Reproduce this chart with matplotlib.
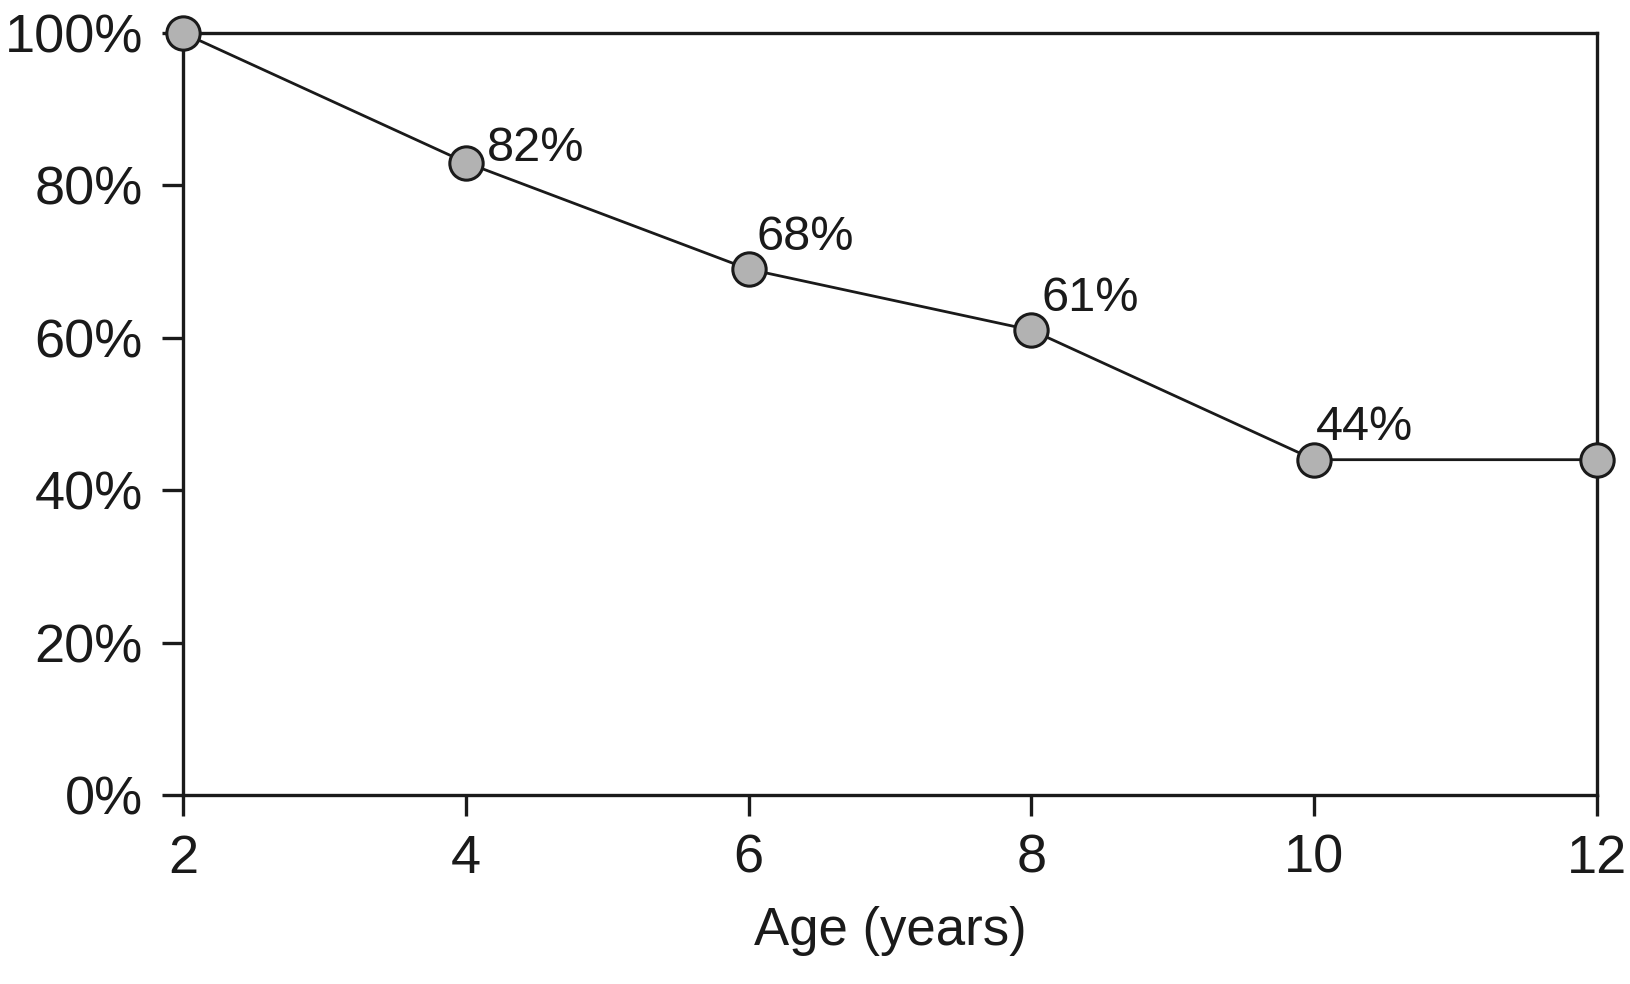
import matplotlib
matplotlib.use("Agg")
import matplotlib.pyplot as plt
from matplotlib.ticker import FuncFormatter

ages = [2, 4, 6, 8, 10, 12]
survival = [100, 83, 69, 61, 44, 44]
label_ages = [4, 6, 8, 10]
label_values = [83, 69, 61, 44]
label_texts = ["82%", "68%", "61%", "44%"]
label_offsets = [(15, 1), (6, 14), (7, 14), (1, 14)]
y_ticks = [0, 20, 40, 60, 80, 100]

plt.rcParams['font.family'] = ['Liberation Sans', 'DejaVu Sans']

fig = plt.figure(figsize=(16.3, 9.84), dpi=100)
ax = fig.add_axes([0.1123, 0.1921, 0.8675, 0.7744])

ax.plot(ages, survival, color='#1a1a1a', linewidth=2.0, marker='o', markersize=24,
        markerfacecolor='#b2b2b2', markeredgecolor='#1a1a1a', markeredgewidth=2.2,
        clip_on=False, zorder=3)

for x, y, t, off in zip(label_ages, label_values, label_texts, label_offsets):
    ax.annotate(t, (x, y), xytext=off, textcoords='offset points',
                fontsize=35, ha='left', va='baseline', color='#1a1a1a')

ax.set_xlim(2, 12)
ax.set_ylim(0, 100)
ax.set_xticks(ages)
ax.set_yticks(y_ticks)
ax.yaxis.set_major_formatter(FuncFormatter(lambda v, p: f"{int(v)}%"))
ax.tick_params(axis='both', direction='out', length=15, width=2.4, color='#1a1a1a',
               labelsize=39, pad=14, labelcolor='#1a1a1a')
ax.tick_params(axis='x', pad=13)
for s in ax.spines.values():
    s.set_linewidth(2.4)
    s.set_color('#1a1a1a')
ax.set_xlabel("Age (years)", fontsize=38, color='#1a1a1a', labelpad=16)

fig.savefig("out.png", dpi=100, facecolor='white')
